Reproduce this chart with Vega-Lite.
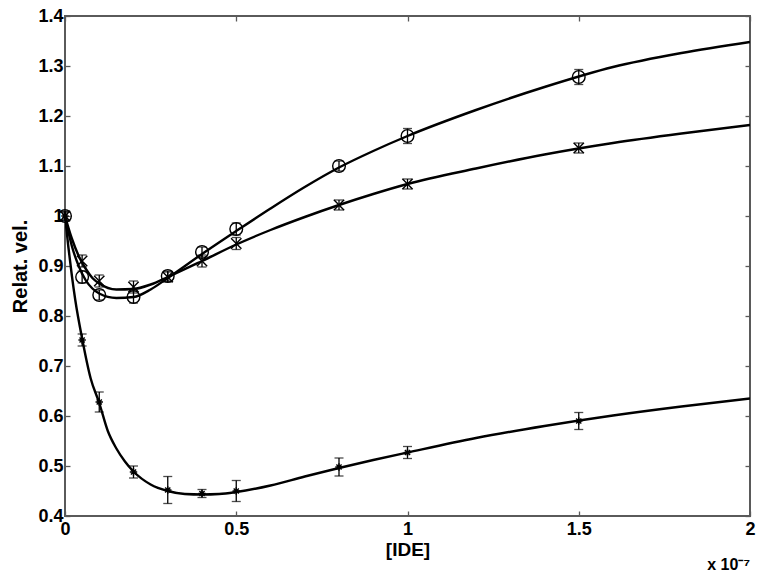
{
  "$schema": "https://vega.github.io/schema/vega-lite/v6.json",
  "width": 685,
  "height": 500,
  "autosize": "none",
  "padding": {"left": 65, "top": 16, "right": 12, "bottom": 59},
  "background": "white",
  "config": {
    "font": "Liberation Sans",
    "view": {"stroke": "#5a5a5a", "strokeWidth": 2},
    "axis": {
      "grid": false,
      "domain": false,
      "tickColor": "#5a5a5a",
      "tickWidth": 1.3,
      "tickSize": -5,
      "labelFont": "Liberation Sans",
      "labelFontSize": 18,
      "labelFontWeight": "bold",
      "labelColor": "black",
      "titleFont": "Liberation Sans",
      "titleFontSize": 19,
      "titleFontWeight": "bold",
      "titleColor": "black"
    },
    "title": {"font": "Liberation Sans", "fontSize": 16, "fontWeight": "bold", "color": "black"}
  },
  "title": {"text": "x 10\u207b\u2077", "orient": "bottom", "anchor": "end", "offset": -2, "dx": -5},
  "datasets": {
    "curves": [
      {"series": "A", "x": 0, "y": 1.0}, {"series": "A", "x": 0.02, "y": 0.94}, {"series": "A", "x": 0.04, "y": 0.9}, {"series": "A", "x": 0.06, "y": 0.872}, {"series": "A", "x": 0.08, "y": 0.855}, {"series": "A", "x": 0.1, "y": 0.845}, {"series": "A", "x": 0.15, "y": 0.836}, {"series": "A", "x": 0.2, "y": 0.838}, {"series": "A", "x": 0.25, "y": 0.853}, {"series": "A", "x": 0.3, "y": 0.876}, {"series": "A", "x": 0.4, "y": 0.924}, {"series": "A", "x": 0.5, "y": 0.97}, {"series": "A", "x": 0.6, "y": 1.015}, {"series": "A", "x": 0.7, "y": 1.058}, {"series": "A", "x": 0.8, "y": 1.097}, {"series": "A", "x": 0.9, "y": 1.13}, {"series": "A", "x": 1.0, "y": 1.16}, {"series": "A", "x": 1.2, "y": 1.212}, {"series": "A", "x": 1.4, "y": 1.258}, {"series": "A", "x": 1.6, "y": 1.298}, {"series": "A", "x": 1.8, "y": 1.326}, {"series": "A", "x": 2.0, "y": 1.348},
      {"series": "B", "x": 0, "y": 1.0}, {"series": "B", "x": 0.02, "y": 0.955}, {"series": "B", "x": 0.04, "y": 0.92}, {"series": "B", "x": 0.06, "y": 0.895}, {"series": "B", "x": 0.08, "y": 0.876}, {"series": "B", "x": 0.1, "y": 0.865}, {"series": "B", "x": 0.15, "y": 0.853}, {"series": "B", "x": 0.2, "y": 0.854}, {"series": "B", "x": 0.25, "y": 0.863}, {"series": "B", "x": 0.3, "y": 0.878}, {"series": "B", "x": 0.4, "y": 0.91}, {"series": "B", "x": 0.5, "y": 0.943}, {"series": "B", "x": 0.6, "y": 0.972}, {"series": "B", "x": 0.7, "y": 0.998}, {"series": "B", "x": 0.8, "y": 1.022}, {"series": "B", "x": 0.9, "y": 1.044}, {"series": "B", "x": 1.0, "y": 1.064}, {"series": "B", "x": 1.2, "y": 1.095}, {"series": "B", "x": 1.4, "y": 1.123}, {"series": "B", "x": 1.6, "y": 1.146}, {"series": "B", "x": 1.8, "y": 1.165}, {"series": "B", "x": 2.0, "y": 1.182},
      {"series": "C", "x": 0, "y": 1.0}, {"series": "C", "x": 0.01, "y": 0.937}, {"series": "C", "x": 0.02, "y": 0.881}, {"series": "C", "x": 0.03, "y": 0.832}, {"series": "C", "x": 0.05, "y": 0.755}, {"series": "C", "x": 0.075, "y": 0.675}, {"series": "C", "x": 0.1, "y": 0.626}, {"series": "C", "x": 0.125, "y": 0.57}, {"series": "C", "x": 0.15, "y": 0.535}, {"series": "C", "x": 0.175, "y": 0.509}, {"series": "C", "x": 0.2, "y": 0.489}, {"series": "C", "x": 0.25, "y": 0.463}, {"series": "C", "x": 0.3, "y": 0.45}, {"series": "C", "x": 0.35, "y": 0.444}, {"series": "C", "x": 0.4, "y": 0.443}, {"series": "C", "x": 0.45, "y": 0.444}, {"series": "C", "x": 0.5, "y": 0.448}, {"series": "C", "x": 0.6, "y": 0.461}, {"series": "C", "x": 0.7, "y": 0.479}, {"series": "C", "x": 0.8, "y": 0.496}, {"series": "C", "x": 0.9, "y": 0.512}, {"series": "C", "x": 1.0, "y": 0.527}, {"series": "C", "x": 1.2, "y": 0.556}, {"series": "C", "x": 1.4, "y": 0.58}, {"series": "C", "x": 1.6, "y": 0.601}, {"series": "C", "x": 1.8, "y": 0.619}, {"series": "C", "x": 2.0, "y": 0.635}
    ],
    "points": [
      {"series": "A", "x": 0, "y": 1.0, "lo": 0.99, "hi": 1.01},
      {"series": "A", "x": 0.05, "y": 0.878, "lo": 0.866, "hi": 0.89},
      {"series": "A", "x": 0.1, "y": 0.842, "lo": 0.832, "hi": 0.852},
      {"series": "A", "x": 0.2, "y": 0.838, "lo": 0.826, "hi": 0.85},
      {"series": "A", "x": 0.3, "y": 0.88, "lo": 0.87, "hi": 0.89},
      {"series": "A", "x": 0.4, "y": 0.928, "lo": 0.918, "hi": 0.938},
      {"series": "A", "x": 0.5, "y": 0.974, "lo": 0.962, "hi": 0.986},
      {"series": "A", "x": 0.8, "y": 1.1, "lo": 1.09, "hi": 1.11},
      {"series": "A", "x": 1.0, "y": 1.16, "lo": 1.145, "hi": 1.175},
      {"series": "A", "x": 1.5, "y": 1.278, "lo": 1.263, "hi": 1.293},
      {"series": "B", "x": 0, "y": 1.0, "lo": 0.992, "hi": 1.008},
      {"series": "B", "x": 0.05, "y": 0.91, "lo": 0.898, "hi": 0.922},
      {"series": "B", "x": 0.1, "y": 0.87, "lo": 0.858, "hi": 0.882},
      {"series": "B", "x": 0.2, "y": 0.858, "lo": 0.846, "hi": 0.87},
      {"series": "B", "x": 0.3, "y": 0.878, "lo": 0.868, "hi": 0.888},
      {"series": "B", "x": 0.4, "y": 0.91, "lo": 0.898, "hi": 0.922},
      {"series": "B", "x": 0.5, "y": 0.945, "lo": 0.933, "hi": 0.957},
      {"series": "B", "x": 0.8, "y": 1.022, "lo": 1.012, "hi": 1.032},
      {"series": "B", "x": 1.0, "y": 1.064, "lo": 1.054, "hi": 1.074},
      {"series": "B", "x": 1.5, "y": 1.136, "lo": 1.126, "hi": 1.146},
      {"series": "C", "x": 0, "y": 1.0, "lo": 0.992, "hi": 1.008},
      {"series": "C", "x": 0.05, "y": 0.752, "lo": 0.74, "hi": 0.764},
      {"series": "C", "x": 0.1, "y": 0.628, "lo": 0.608, "hi": 0.648},
      {"series": "C", "x": 0.2, "y": 0.488, "lo": 0.476, "hi": 0.5},
      {"series": "C", "x": 0.3, "y": 0.452, "lo": 0.425, "hi": 0.479},
      {"series": "C", "x": 0.4, "y": 0.445, "lo": 0.437, "hi": 0.453},
      {"series": "C", "x": 0.5, "y": 0.45, "lo": 0.429, "hi": 0.471},
      {"series": "C", "x": 0.8, "y": 0.498, "lo": 0.48, "hi": 0.516},
      {"series": "C", "x": 1.0, "y": 0.527, "lo": 0.515, "hi": 0.539},
      {"series": "C", "x": 1.5, "y": 0.59, "lo": 0.573, "hi": 0.607}
    ]
  },
  "resolve": {"axis": {"x": "independent", "y": "independent"}},
  "layer": [
    {
      "data": {"name": "curves"},
      "mark": {"type": "line", "color": "black", "strokeWidth": 2.4, "interpolate": "monotone", "clip": true},
      "encoding": {
        "x": {"field": "x", "type": "quantitative", "scale": {"domain": [0, 2], "nice": false, "zero": false},
              "axis": {"orient": "bottom", "title": "[IDE]", "values": [0, 0.5, 1, 1.5, 2], "format": ".1~f", "labelPadding": 9, "titlePadding": 2, "labelFlush": false}},
        "y": {"field": "y", "type": "quantitative", "scale": {"domain": [0.4, 1.4], "nice": false, "zero": false},
              "axis": {"orient": "left", "title": "Relat. vel.", "values": [0.4, 0.5, 0.6, 0.7, 0.8, 0.9, 1.0, 1.1, 1.2, 1.3, 1.4], "format": ".1~f", "labelPadding": 7, "titlePadding": 7, "titleFontSize": 20, "labelFlush": false}},
        "detail": {"field": "series"}
      }
    },
    {
      "data": {"name": "points"},
      "mark": {"type": "rule", "color": "black", "strokeWidth": 1.3},
      "encoding": {
        "x": {"field": "x", "type": "quantitative", "axis": {"orient": "top", "labels": false, "title": null, "values": [0, 0.5, 1, 1.5, 2]}},
        "y": {"field": "lo", "type": "quantitative", "axis": {"orient": "right", "labels": false, "title": null, "values": [0.4, 0.5, 0.6, 0.7, 0.8, 0.9, 1.0, 1.1, 1.2, 1.3, 1.4]}},
        "y2": {"field": "hi"}
      }
    },
    {
      "data": {"name": "points"},
      "mark": {"type": "tick", "orient": "horizontal", "color": "black", "size": 9, "thickness": 1.3},
      "encoding": {
        "x": {"field": "x", "type": "quantitative", "axis": null},
        "y": {"field": "lo", "type": "quantitative", "axis": null}
      }
    },
    {
      "data": {"name": "points"},
      "mark": {"type": "tick", "orient": "horizontal", "color": "black", "size": 9, "thickness": 1.3},
      "encoding": {
        "x": {"field": "x", "type": "quantitative", "axis": null},
        "y": {"field": "hi", "type": "quantitative", "axis": null}
      }
    },
    {
      "data": {"name": "points"},
      "mark": {"type": "point", "filled": false, "stroke": "black", "strokeWidth": 1.4, "opacity": 1},
      "encoding": {
        "x": {"field": "x", "type": "quantitative", "axis": null},
        "y": {"field": "y", "type": "quantitative", "axis": null},
        "shape": {"field": "series", "type": "nominal", "legend": null,
                  "scale": {"domain": ["A", "B", "C"], "range": ["circle", "M-1,-1L1,1M-1,1L1,-1", "M-1,0L1,0M0,-1L0,1M-0.7,-0.7L0.7,0.7M-0.7,0.7L0.7,-0.7"]}},
        "size": {"field": "series", "type": "nominal", "legend": null,
                 "scale": {"domain": ["A", "B", "C"], "range": [160, 55, 90]}}
      }
    }
  ]
}
